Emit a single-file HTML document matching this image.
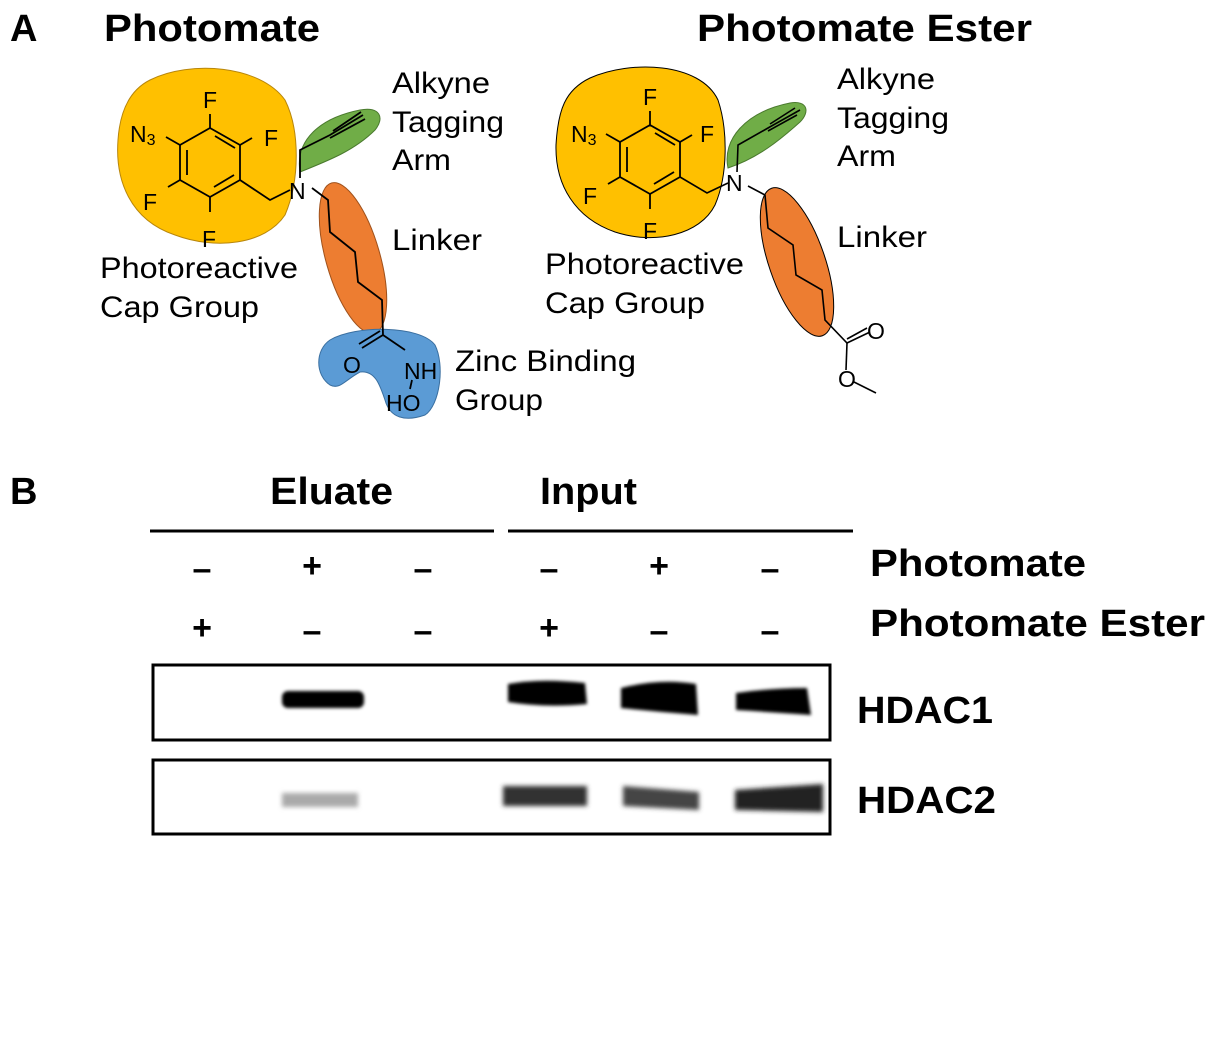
<!DOCTYPE html>
<html><head><meta charset="utf-8"><style>
html,body{margin:0;padding:0;background:#fff;}
svg{display:block;}
text{font-family:"Liberation Sans",Arial,sans-serif;}
.b{font-weight:bold;}
</style></head><body>
<svg width="1217" height="1037" viewBox="0 0 1217 1037" xmlns="http://www.w3.org/2000/svg">
<defs>
<filter id="bl" x="-20%" y="-50%" width="140%" height="200%"><feGaussianBlur stdDeviation="1.5"/></filter>
<filter id="bl2" x="-20%" y="-50%" width="140%" height="200%"><feGaussianBlur stdDeviation="2.5"/></filter>
<g id="ring" stroke="#000" stroke-width="1.8" fill="none">
<polygon points="0,-42 30,-25 30,10 0,27 -30,10 -30,-25"/>
<line x1="5" y1="-34" x2="25" y2="-22"/><line x1="24" y1="5" x2="4" y2="17"/><line x1="-23" y1="5" x2="-23" y2="-20"/>
<line x1="0" y1="-42" x2="0" y2="-56"/><line x1="30" y1="-25" x2="42" y2="-32"/><line x1="-30" y1="-25" x2="-44" y2="-33"/>
<line x1="-30" y1="10" x2="-42" y2="17"/><line x1="0" y1="27" x2="0" y2="42"/>
</g>
</defs>
<text x="10" y="41" font-size="38" class="b">A</text>
<text x="104" y="41" font-size="38" class="b" textLength="216" lengthAdjust="spacingAndGlyphs">Photomate</text>
<text x="697" y="41" font-size="38" class="b" textLength="335" lengthAdjust="spacingAndGlyphs">Photomate Ester</text>

<!-- Left molecule -->
<path d="M150,80 C190,60 260,65 285,100 C300,130 300,180 285,215 C265,245 215,250 175,235 C130,220 115,180 118,140 C120,110 130,90 150,80 Z" fill="#FFC000" stroke="#B8860B" stroke-width="1"/>
<path d="M300,172 C295,140 320,118 360,110 C380,106 385,118 375,130 C355,150 330,160 300,172 Z" fill="#70AD47" stroke="#4a7a2e" stroke-width="1"/>
<ellipse cx="353" cy="258" rx="27" ry="78" transform="rotate(-16 353 258)" fill="#ED7D31" stroke="#a0521c" stroke-width="1"/>
<path d="M330,340 C355,325 420,325 435,345 C445,365 440,405 425,415 C405,422 390,418 385,400 C380,385 375,370 360,372 C345,380 340,390 330,385 C315,375 315,350 330,340 Z" fill="#5B9BD5" stroke="#3a6fa0" stroke-width="1"/>
<use href="#ring" x="210" y="170"/>
<g stroke="#000" stroke-width="1.8" fill="none">
<polyline points="240,180 270,200 290,190"/>
<polyline points="300,178 300,150 330,135 363,115"/>
<line x1="330" y1="138" x2="365" y2="119"/><line x1="333" y1="131" x2="361" y2="112"/>
<polyline points="312,188 328,200 330,232 355,252 358,282 382,300 383,335 405,350"/>
<line x1="383" y1="335" x2="362" y2="348"/><line x1="380" y1="331" x2="359" y2="344"/>
<line x1="412" y1="380" x2="410" y2="389"/>
</g>
<g font-size="23">
<text x="203" y="108">F</text><text x="264" y="146">F</text><text x="143" y="210">F</text><text x="202" y="247">F</text>
<text x="130" y="142">N<tspan font-size="16" dy="3">3</tspan></text>
<text x="289" y="199">N</text>
<text x="343" y="373">O</text><text x="404" y="379">NH</text><text x="386" y="411">HO</text>
</g>
<g font-size="30">
<text x="392" y="93" textLength="98" lengthAdjust="spacingAndGlyphs">Alkyne</text>
<text x="392" y="132" textLength="112" lengthAdjust="spacingAndGlyphs">Tagging</text>
<text x="392" y="170" textLength="59" lengthAdjust="spacingAndGlyphs">Arm</text>
<text x="392" y="250" textLength="90" lengthAdjust="spacingAndGlyphs">Linker</text>
<text x="100" y="278" textLength="198" lengthAdjust="spacingAndGlyphs">Photoreactive</text>
<text x="100" y="317" textLength="159" lengthAdjust="spacingAndGlyphs">Cap Group</text>
<text x="455" y="371" textLength="181" lengthAdjust="spacingAndGlyphs">Zinc Binding</text>
<text x="455" y="410" textLength="88" lengthAdjust="spacingAndGlyphs">Group</text>
</g>

<!-- Right molecule -->
<path d="M590,78 C630,60 700,62 718,100 C728,130 728,175 715,205 C700,235 655,245 615,232 C575,218 555,185 556,145 C558,110 565,90 590,78 Z" fill="#FFC000" stroke="#000" stroke-width="1"/>
<path d="M728,168 C722,140 745,112 790,103 C808,100 810,112 800,122 C780,140 758,158 728,168 Z" fill="#70AD47" stroke="#4a7a2e" stroke-width="1"/>
<ellipse cx="797" cy="262" rx="28" ry="78" transform="rotate(-19 797 262)" fill="#ED7D31" stroke="#000" stroke-width="1"/>
<use href="#ring" x="650" y="167"/>
<g stroke="#000" stroke-width="1.6" fill="none">
<polyline points="680,177 707,193 728,183"/>
<polyline points="737,172 738,145 768,128 800,110"/>
<line x1="768" y1="131" x2="797" y2="115"/><line x1="770" y1="124" x2="795" y2="108"/>
<polyline points="748,186 765,195 768,228 793,245 796,275 822,290 825,320 847,343 870,332"/>
<line x1="847" y1="339" x2="867" y2="328"/>
<line x1="847" y1="343" x2="846" y2="370"/><line x1="854" y1="382" x2="876" y2="393"/>
</g>
<g font-size="23">
<text x="643" y="105">F</text><text x="700" y="142">F</text><text x="583" y="204">F</text><text x="643" y="239">F</text>
<text x="571" y="142">N<tspan font-size="16" dy="3">3</tspan></text>
<text x="726" y="191">N</text>
<text x="867" y="339">O</text><text x="838" y="387">O</text>
</g>
<g font-size="30">
<text x="837" y="89" textLength="98" lengthAdjust="spacingAndGlyphs">Alkyne</text>
<text x="837" y="128" textLength="112" lengthAdjust="spacingAndGlyphs">Tagging</text>
<text x="837" y="166" textLength="59" lengthAdjust="spacingAndGlyphs">Arm</text>
<text x="837" y="247" textLength="90" lengthAdjust="spacingAndGlyphs">Linker</text>
<text x="545" y="274" textLength="199" lengthAdjust="spacingAndGlyphs">Photoreactive</text>
<text x="545" y="313" textLength="160" lengthAdjust="spacingAndGlyphs">Cap Group</text>
</g>

<!-- Panel B -->
<text x="10" y="504" font-size="38" class="b">B</text>
<text x="270" y="504" font-size="38" class="b" textLength="123" lengthAdjust="spacingAndGlyphs">Eluate</text>
<text x="540" y="504" font-size="38" class="b" textLength="97" lengthAdjust="spacingAndGlyphs">Input</text>
<line x1="150" y1="531" x2="494" y2="531" stroke="#000" stroke-width="3"/>
<line x1="508" y1="531" x2="853" y2="531" stroke="#000" stroke-width="3"/>
<g font-size="34" class="b" text-anchor="middle">
<text x="202" y="580">–</text><text x="312" y="577">+</text><text x="423" y="580">–</text>
<text x="549" y="580">–</text><text x="659" y="577">+</text><text x="770" y="580">–</text>
<text x="202" y="639">+</text><text x="312" y="642">–</text><text x="423" y="642">–</text>
<text x="549" y="639">+</text><text x="659" y="642">–</text><text x="770" y="642">–</text>
</g>
<text x="870" y="576" font-size="38" class="b" textLength="216" lengthAdjust="spacingAndGlyphs">Photomate</text>
<text x="870" y="636" font-size="38" class="b" textLength="335" lengthAdjust="spacingAndGlyphs">Photomate Ester</text>

<rect x="153" y="665" width="677" height="75" fill="none" stroke="#000" stroke-width="3"/>
<rect x="153" y="760" width="677" height="74" fill="none" stroke="#000" stroke-width="3"/>
<g filter="url(#bl)" fill="#000">
<rect x="282" y="691" width="82" height="17" rx="6"/>
<path d="M508,684 Q540,678 585,683 L587,704 Q545,708 508,702 Z"/>
<path d="M621,688 Q660,678 696,684 L698,715 Q660,712 621,708 Z"/>
<path d="M736,693 Q770,688 807,688 L811,715 Q770,712 736,710 Z"/>
</g>
<g filter="url(#bl2)">
<rect x="282" y="793" width="76" height="14" fill="#aaa"/>
<rect x="503" y="786" width="84" height="20" fill="#333"/>
<path d="M623,786 L699,792 L699,810 L623,806 Z" fill="#444"/>
<path d="M735,790 L823,784 L823,812 L735,810 Z" fill="#222"/>
</g>
<text x="857" y="723" font-size="38" class="b" textLength="136" lengthAdjust="spacingAndGlyphs">HDAC1</text>
<text x="857" y="813" font-size="38" class="b" textLength="139" lengthAdjust="spacingAndGlyphs">HDAC2</text>
</svg>
</body></html>
